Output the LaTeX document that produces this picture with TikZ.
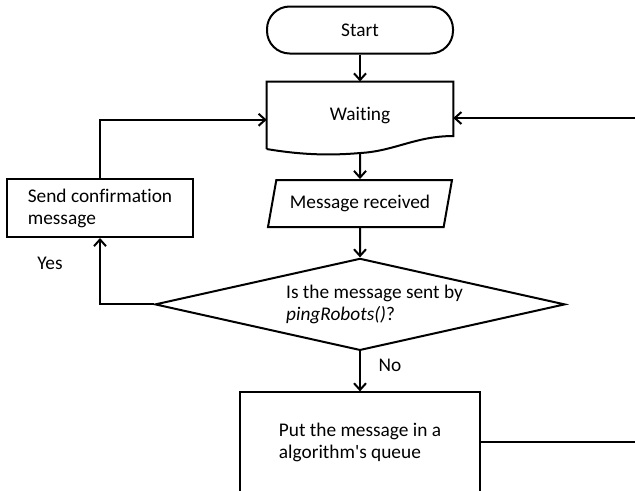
\documentclass[tikz,border=0pt]{standalone}
\usepackage{fontspec}
\setmainfont{Carlito}[Ligatures={NoCommon}]
\newfontfamily\rawfont{Carlito}[Ligatures={NoCommon}]
\usetikzlibrary{shapes.geometric,positioning,calc,arrows.meta}
\tikzset{ARROW/.style={line width=1.5pt, -{Straight Barb[length=5pt,width=9pt]}}}
\tikzset{LINE/.style={line width=1.5pt}}
\tikzset{TERMINAL/.style={rectangle, rounded corners=17pt, minimum width=139.5pt, minimum height=35.25pt, draw, line width=1.5pt}}
\tikzset{DOCUMENT/.style={rectangle, minimum width=139.5pt, minimum height=50.25pt}}
\tikzset{IO/.style={trapezium, trapezium left angle=72, trapezium right angle=108, trapezium stretches body=true, minimum width=138pt, minimum height=35.25pt, draw, line width=1.5pt}}
\tikzset{DECISION/.style={diamond, aspect=4.46, inner sep=0pt, minimum width=307.5pt, minimum height=69pt, draw, line width=1.5pt, align=left}}
\tikzset{PROCESS/.style={rectangle, draw, line width=1.5pt, align=left}}

\begin{document}
\begin{tikzpicture}[x=0.75pt,y=-0.75pt,font=\fontsize{14.5}{16.5}\selectfont]
    \clip (0,0) rectangle (635,490);

    \node[TERMINAL] (n_start) at (360,30) {Start};
    \node[DOCUMENT, below=20.25pt of n_start] (n_waiting) {Waiting};
    \coordinate (waiting_dip) at ($(n_waiting.south)+(0,4)$);
    \draw[LINE] (n_waiting.south west) -- (n_waiting.north west) -- (n_waiting.north east)
        -- ($(n_waiting.south east)+(0,-13)$) .. controls +(-38,0) and +(35,-2) .. (waiting_dip)
        .. controls +(-35,3) and +(30,5) .. (n_waiting.south west);

    \node[IO, below=22.5pt of n_waiting] (n_received) {Message received};
    \node[DECISION, below=22pt of n_received] (n_decision) {\hspace{1.5em}Is the message sent by\\ \hspace{1.5em}\textit{pingRobots()}?};
    \node[PROCESS, minimum width=180pt, minimum height=75pt, below=30pt of n_decision] (n_queue) {Put the message in a\\ algorithm{\rawfont'}s queue\hspace{0.8em}};
    \node[PROCESS, minimum width=139.5pt, minimum height=43.5pt] (n_send) at (100,208) {Send confirmation\\ message};

    \node (n_yes) at (50,263) {Yes};
    \node (n_no) at (390,365) {No};

    \draw[ARROW] (n_start) -- (n_waiting);
    \draw[ARROW] (waiting_dip) -- (n_received);
    \draw[ARROW] (n_received) -- (n_decision);
    \draw[ARROW] (n_decision.west) -| (n_send.south);
    \draw[ARROW] (n_decision.south) -- (n_queue.north);

    \coordinate (waiting_left) at ($(n_waiting.west)+(0,4.5)$);
    \draw[ARROW] (n_send.north) |- (waiting_left);

    \coordinate (right_in) at (640,118);
    \draw[ARROW] (right_in) -- (right_in -| n_waiting.east);

    \coordinate (right_out) at (640,443);
    \draw[LINE] (n_queue.east) -- (n_queue.east -| right_out);
\end{tikzpicture}
\end{document}
